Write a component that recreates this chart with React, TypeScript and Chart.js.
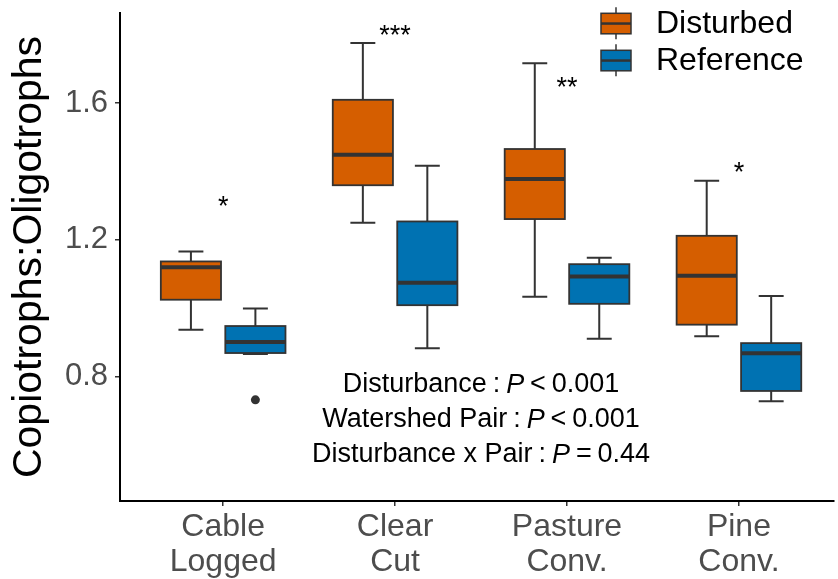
import React, { useEffect, useRef } from "react";
import { Chart, registerables } from "chart.js";

Chart.register(...registerables);

// Watershed pairs on the x axis (two-line tick labels)
const categories: string[][] = [
  ["Cable", "Logged"],
  ["Clear", "Cut"],
  ["Pasture", "Conv."],
  ["Pine", "Conv."],
];

const groupNames = ["Disturbed", "Reference"];

// Box summaries: whisker ends, quartiles and medians, one value per pair
const disturbedMin = [0.937, 1.25, 1.034, 0.918];
const disturbedQ1 = [1.025, 1.36, 1.261, 0.952];
const disturbedMedian = [1.12, 1.449, 1.378, 1.095];
const disturbedQ3 = [1.137, 1.61, 1.466, 1.212];
const disturbedMax = [1.166, 1.776, 1.717, 1.373];

const referenceMin = [0.866, 0.883, 0.911, 0.728];
const referenceQ1 = [0.869, 1.009, 1.013, 0.758];
const referenceMedian = [0.901, 1.075, 1.093, 0.868];
const referenceQ3 = [0.948, 1.254, 1.129, 0.898];
const referenceMax = [0.999, 1.417, 1.148, 1.036];

// Points beyond the whiskers
const disturbedOutliers: number[][] = [[], [], [], []];
const referenceOutliers: number[][] = [[0.732], [], [], []];

// Pairwise significance marks and the height they sit at
const significance = ["*", "***", "**", "*"];
const significanceY = [1.3, 1.8, 1.65, 1.4];

// Model results printed inside the panel
const modelTerms = ["Disturbance", "Watershed Pair", "Disturbance x Pair"];
const modelRelations = ["<", "<", "="];
const modelPValues = ["0.001", "0.001", "0.44"];

const yTicks = [0.8, 1.2, 1.6];
const yMin = 0.436;
const yMax = 1.864;

const FONT = '"Liberation Sans", Arial, Helvetica, sans-serif';
const ORANGE = "#D55E00";
const BLUE = "#0072B2";
const INK = "#333333";
const AXIS_GREY = "#4D4D4D";

const DODGE = 0.1875;
const BOX_WIDTH = 0.35;
const CAP_WIDTH = 0.145;

export default function App() {
  const canvasRef = useRef<HTMLCanvasElement>(null);

  useEffect(() => {
    const canvas = canvasRef.current;
    if (!canvas) return;

    const groups = [
      {
        name: groupNames[0],
        color: ORANGE,
        offset: -DODGE,
        min: disturbedMin,
        q1: disturbedQ1,
        median: disturbedMedian,
        q3: disturbedQ3,
        max: disturbedMax,
        outliers: disturbedOutliers,
      },
      {
        name: groupNames[1],
        color: BLUE,
        offset: DODGE,
        min: referenceMin,
        q1: referenceQ1,
        median: referenceMedian,
        q3: referenceQ3,
        max: referenceMax,
        outliers: referenceOutliers,
      },
    ];

    const outlierPoints: { x: number; y: number }[] = [];
    groups.forEach((g) =>
      g.outliers.forEach((vals, i) =>
        vals.forEach((v) => outlierPoints.push({ x: i + g.offset, y: v }))
      )
    );

    const boxPlugin = {
      id: "boxes",
      beforeDatasetsDraw(chart: any) {
        const { ctx } = chart;
        const x = chart.scales.x;
        const y = chart.scales.y;
        const unit = x.getPixelForValue(1) - x.getPixelForValue(0);
        const boxHalf = (BOX_WIDTH * unit) / 2;
        const capHalf = (CAP_WIDTH * unit) / 2;
        ctx.save();
        groups.forEach((g) => {
          categories.forEach((_, i) => {
            const cx = x.getPixelForValue(i + g.offset);
            const yLo = y.getPixelForValue(g.min[i]);
            const yHi = y.getPixelForValue(g.max[i]);
            const yQ1 = y.getPixelForValue(g.q1[i]);
            const yQ3 = y.getPixelForValue(g.q3[i]);
            const yMed = y.getPixelForValue(g.median[i]);

            // whiskers with end caps
            ctx.strokeStyle = INK;
            ctx.lineWidth = 2;
            ctx.lineCap = "butt";
            ctx.beginPath();
            ctx.moveTo(cx, yLo);
            ctx.lineTo(cx, yHi);
            ctx.moveTo(cx - capHalf, yLo);
            ctx.lineTo(cx + capHalf, yLo);
            ctx.moveTo(cx - capHalf, yHi);
            ctx.lineTo(cx + capHalf, yHi);
            ctx.stroke();

            // interquartile box
            ctx.fillStyle = g.color;
            ctx.fillRect(cx - boxHalf, yQ3, boxHalf * 2, yQ1 - yQ3);
            ctx.lineWidth = 1.8;
            ctx.strokeRect(cx - boxHalf, yQ3, boxHalf * 2, yQ1 - yQ3);

            // median
            ctx.lineWidth = 4;
            ctx.beginPath();
            ctx.moveTo(cx - boxHalf, yMed);
            ctx.lineTo(cx + boxHalf, yMed);
            ctx.stroke();
          });
        });
        ctx.restore();
      },
      afterDraw(chart: any) {
        const { ctx } = chart;
        const x = chart.scales.x;
        const y = chart.scales.y;
        ctx.save();

        // significance stars
        ctx.fillStyle = "#000";
        ctx.font = `27px ${FONT}`;
        ctx.textAlign = "center";
        ctx.textBaseline = "middle";
        significance.forEach((s, i) => {
          ctx.fillText(s, x.getPixelForValue(i), y.getPixelForValue(significanceY[i]) + 2);
        });

        // model summary text
        const size = 27;
        const regular = `${size}px ${FONT}`;
        const italic = `italic ${size}px ${FONT}`;
        const gap = size * 0.22;
        const centerX = x.getPixelForValue(1.5);
        const midY = y.getPixelForValue(0.673);
        const lineStep = 35;
        ctx.textAlign = "left";
        modelTerms.forEach((term, k) => {
          const parts = [
            { t: term, f: regular },
            { t: ":", f: regular },
            { t: "P", f: italic },
            { t: modelRelations[k], f: regular },
            { t: modelPValues[k], f: regular },
          ];
          const widths = parts.map((p) => {
            ctx.font = p.f;
            return ctx.measureText(p.t).width;
          });
          const total = widths.reduce((a, b) => a + b, 0) + gap * (parts.length - 1);
          let px = centerX - total / 2;
          const py = midY + (k - 1) * lineStep;
          parts.forEach((p, j) => {
            ctx.font = p.f;
            ctx.fillText(p.t, px, py);
            px += widths[j] + gap;
          });
        });

        // legend with box glyph keys
        const keyLeft = 601;
        const keyW = 30;
        const keyH = 20.5;
        const keyTops = [13.3, 50.3];
        groups.forEach((g, k) => {
          const top = keyTops[k];
          const mid = keyLeft + keyW / 2;
          ctx.strokeStyle = INK;
          ctx.lineWidth = 1.5;
          ctx.beginPath();
          ctx.moveTo(mid, top - 6);
          ctx.lineTo(mid, top + keyH + 5.5);
          ctx.stroke();
          ctx.fillStyle = g.color;
          ctx.fillRect(keyLeft, top, keyW, keyH);
          ctx.strokeRect(keyLeft, top, keyW, keyH);
          ctx.lineWidth = 2.5;
          ctx.beginPath();
          ctx.moveTo(keyLeft, top + keyH / 2);
          ctx.lineTo(keyLeft + keyW, top + keyH / 2);
          ctx.stroke();
          ctx.fillStyle = "#000";
          ctx.font = `32px ${FONT}`;
          ctx.textAlign = "left";
          ctx.textBaseline = "middle";
          ctx.fillText(g.name, 656, top + keyH / 2 + 1);
        });

        ctx.restore();
      },
    };

    const chart = new Chart(canvas, {
      type: "scatter",
      data: {
        datasets: [
          {
            data: outlierPoints,
            pointRadius: 4.5,
            pointBackgroundColor: INK,
            pointBorderWidth: 0,
            showLine: false,
          },
        ],
      },
      options: {
        responsive: false,
        animation: false,
        devicePixelRatio: 1,
        layout: { padding: { top: 13, left: 0, right: 0, bottom: 0 } },
        plugins: {
          legend: { display: false },
          tooltip: { enabled: false },
        },
        scales: {
          x: {
            type: "linear",
            min: -0.6,
            max: 3.55,
            afterBuildTicks: (s: any) => {
              s.ticks = categories.map((_, i) => ({ value: i }));
            },
            afterFit: (s: any) => {
              s.height = 78;
              s.paddingLeft = 0;
              s.paddingRight = 0;
            },
            ticks: {
              autoSkip: false,
              maxRotation: 0,
              minRotation: 0,
              padding: 4,
              color: AXIS_GREY,
              font: { family: FONT, size: 32, lineHeight: 1.08 },
              callback: (v: any) => categories[Math.round(Number(v))] ?? "",
            },
            grid: {
              drawOnChartArea: false,
              drawTicks: true,
              tickLength: 5,
              color: INK,
              lineWidth: 1.5,
            },
            border: { display: true, color: "#000", width: 2 },
          },
          y: {
            type: "linear",
            min: yMin,
            max: yMax,
            afterBuildTicks: (s: any) => {
              s.ticks = yTicks.map((v) => ({ value: v }));
            },
            afterFit: (s: any) => {
              s.width = 120;
              s.paddingTop = 0;
              s.paddingBottom = 0;
            },
            ticks: {
              padding: 7,
              color: AXIS_GREY,
              font: { family: FONT, size: 31 },
              callback: (v: any) => Number(v).toFixed(1),
            },
            grid: {
              drawOnChartArea: false,
              drawTicks: true,
              tickLength: 5,
              color: INK,
              lineWidth: 1.5,
            },
            border: { display: true, color: "#000", width: 2 },
            title: {
              display: true,
              text: "Copiotrophs:Oligotrophs",
              color: "#000",
              font: { family: FONT, size: 41, lineHeight: 1.2 },
              padding: { top: 5, bottom: 0 },
            },
          },
        },
      },
      plugins: [boxPlugin],
    } as any);

    return () => chart.destroy();
  }, []);

  return (
    <div style={{ position: "absolute", left: 0, top: 0, width: 838, height: 579, background: "#fff" }}>
      <canvas ref={canvasRef} width={838} height={579} style={{ display: "block" }} />
    </div>
  );
}
